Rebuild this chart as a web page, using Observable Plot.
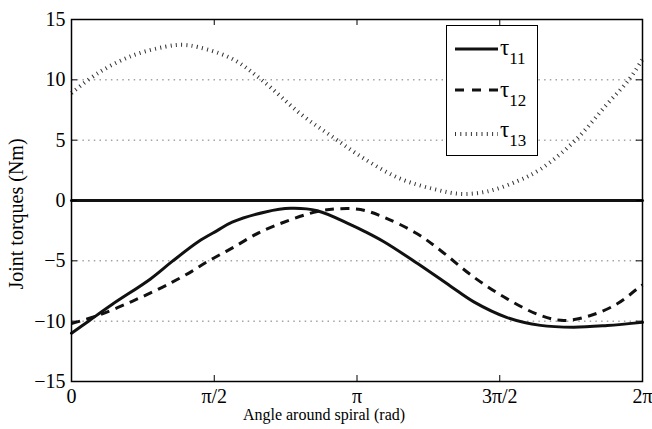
<!DOCTYPE html>
<html>
<head>
<meta charset="utf-8">
<script src="https://cdn.jsdelivr.net/npm/d3@7"></script>
<script src="https://cdn.jsdelivr.net/npm/@observablehq/plot@0.6"></script>
<style>
  html, body { margin: 0; padding: 0; background: white; }
  #chart { width: 652px; height: 429px; }
</style>
</head>
<body>
<div id="chart"></div>
<script>
// ---- data (angle in rad, torque in Nm) ----
const tau11Angle  = [0, 0.187, 0.450, 0.869, 1.108, 1.398, 1.603, 1.768, 2.135, 2.410, 2.704, 3.070, 3.235, 3.433, 3.804, 4.171, 4.427, 4.794, 5.161, 5.524, 5.895, 6.283];
const tau11Torque = [-11.0, -10.0, -8.6, -6.5, -5.05, -3.4, -2.5, -1.8, -0.95, -0.65, -0.85, -2.0, -2.6, -3.4, -5.2, -7.1, -8.4, -9.7, -10.35, -10.5, -10.36, -10.1];

const tau12Angle  = [0, 0.300, 0.668, 0.998, 1.163, 1.328, 1.474, 1.639, 1.786, 1.951, 2.098, 2.337, 2.704, 2.924, 3.180, 3.437, 3.804, 4.061, 4.427, 4.794, 5.161, 5.418, 5.711, 6.005, 6.225, 6.283];
const tau12Torque = [-10.2, -9.5, -8.35, -7.2, -6.55, -5.85, -5.16, -4.47, -3.87, -3.12, -2.54, -1.8, -0.91, -0.69, -0.75, -1.38, -2.76, -4.14, -6.35, -8.15, -9.53, -9.94, -9.53, -8.56, -7.32, -7.0];

const tau13Angle  = [0, 0.300, 0.668, 1.034, 1.218, 1.400, 1.768, 2.102, 2.520, 2.886, 3.253, 3.620, 3.986, 4.280, 4.574, 4.904, 5.161, 5.546, 5.895, 6.133, 6.283];
const tau13Torque = [8.9, 10.6, 12.0, 12.75, 12.9, 12.7, 11.74, 9.94, 7.18, 5.2, 3.31, 1.8, 0.95, 0.55, 0.75, 1.6, 2.6, 5.0, 8.0, 10.0, 11.7];

const zeroAngle  = [0, 6.283];
const zeroTorque = [0, 0];

const yTicks = [-15, -10, -5, 0, 5, 10, 15];
const gridValues = [-10, -5, 0, 5, 10];
const xTickMultiples = [0, 0.5, 1, 1.5, 2];
const xTickLabels = ["0", "π/2", "π", "3π/2", "2π"];
const legendLabels = [["τ", "11"], ["τ", "12"], ["τ", "13"]];
const xTitle = "Angle around spiral (rad)";
const yTitle = "Joint torques (Nm)";

// ---- build ----
const xTicks = xTickMultiples.map(m => m * Math.PI);
const rows = (a, t) => t.map((v, i) => ({a: a[i], t: v}));

const W = 652, H = 429, mL = 71, mR = 10, mT = 19, mB = 48;
const innerW = W - mL - mR, innerH = H - mT - mB;
const serif = '"Liberation Serif", "Times New Roman", serif';

const svg = Plot.plot({
  width: W, height: H,
  marginLeft: mL, marginRight: mR, marginTop: mT, marginBottom: mB,
  style: {fontFamily: serif, fontSize: "20px", background: "white", color: "black"},
  x: {domain: [0, 2 * Math.PI], label: null},
  y: {domain: [-15, 15], label: null},
  marks: [
    Plot.gridY(gridValues, {stroke: "#777", strokeOpacity: 1, strokeWidth: 1, strokeDasharray: "1.5,4.2"}),
    Plot.line(rows(zeroAngle, zeroTorque), {x: "a", y: "t", stroke: "#111", strokeWidth: 3}),
    Plot.line(rows(tau13Angle, tau13Torque), {x: "a", y: "t", curve: "catmull-rom", stroke: "#333", strokeWidth: 4, strokeDasharray: "1,4.3", strokeLinecap: "butt"}),
    Plot.line(rows(tau12Angle, tau12Torque), {x: "a", y: "t", curve: "catmull-rom", stroke: "#111", strokeWidth: 3, strokeDasharray: "9,6.5", strokeLinecap: "butt"}),
    Plot.line(rows(tau11Angle, tau11Torque), {x: "a", y: "t", curve: "catmull-rom", stroke: "#111", strokeWidth: 3}),
    // inward ticks on all four sides
    Plot.ruleY(yTicks, {insetRight: innerW - 6, stroke: "black", strokeWidth: 1}),
    Plot.ruleY(yTicks, {insetLeft: innerW - 6, stroke: "black", strokeWidth: 1}),
    Plot.ruleX(xTicks, {insetTop: innerH - 6, stroke: "black", strokeWidth: 1}),
    Plot.ruleX(xTicks, {insetBottom: innerH - 6, stroke: "black", strokeWidth: 1}),
    Plot.frame({stroke: "black", strokeWidth: 1.5}),
    Plot.axisY(yTicks, {tickSize: 0, tickPadding: 6, fontSize: 20, label: null}),
    Plot.axisX(xTicks, {tickSize: 0, tickPadding: 7, fontSize: 20, label: null,
      tickFormat: d => xTickLabels[xTicks.indexOf(d)]})
  ]
});

const s = d3.select(svg);
// axis titles
s.append("text")
  .attr("x", 324).attr("y", 420)
  .attr("text-anchor", "middle")
  .style("font-family", serif).style("font-size", "16px")
  .attr("fill", "black")
  .text(xTitle);
s.append("text")
  .attr("transform", "translate(23,214) rotate(-90)")
  .attr("text-anchor", "middle")
  .style("font-family", serif).style("font-size", "20px")
  .attr("fill", "black")
  .text(yTitle);

// legend
const lg = s.append("g");
lg.append("rect").attr("x", 446.5).attr("y", 25.5).attr("width", 91).attr("height", 130)
  .attr("fill", "white").attr("stroke", "black").attr("stroke-width", 1);
const sampleY = [49, 90, 134];
const textY = [55, 97, 137];
const styles = [
  {w: 3, dash: null, c: "#111"},
  {w: 3, dash: "9,8", c: "#111"},
  {w: 4, dash: "1,4.3", c: "#333"}
];
legendLabels.forEach((lab, i) => {
  const st = styles[i];
  const ln = lg.append("line").attr("x1", 455).attr("x2", 498)
    .attr("y1", sampleY[i]).attr("y2", sampleY[i])
    .attr("stroke", st.c).attr("stroke-width", st.w);
  if (st.dash) ln.attr("stroke-dasharray", st.dash);
  const t = lg.append("text").attr("x", 500).attr("y", textY[i])
    .attr("text-anchor", "start")
    .style("font-family", serif).style("font-size", "23px").attr("fill", "black");
  t.append("tspan").text(lab[0]);
  t.append("tspan").attr("dy", 9).style("font-size", "17px").text(lab[1]);
});

document.getElementById("chart").appendChild(svg);
</script>
</body>
</html>
